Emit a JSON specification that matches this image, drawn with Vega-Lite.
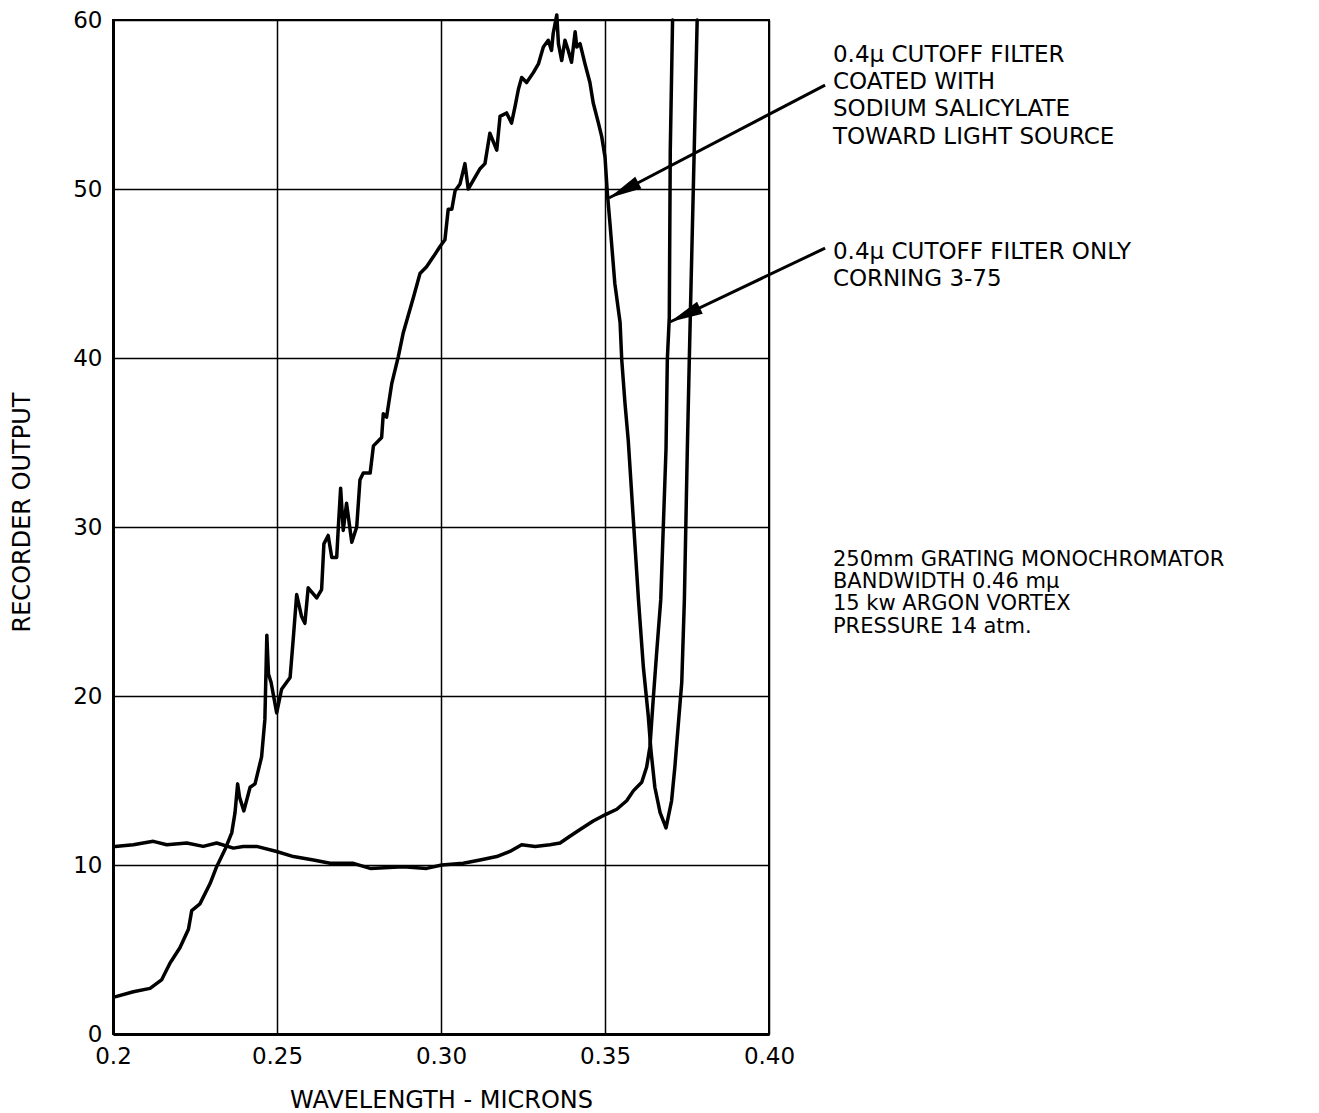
{
  "$schema": "https://vega.github.io/schema/vega-lite/v6.json",
  "width": 656,
  "height": 1014,
  "autosize": {"type": "none"},
  "padding": {"left": 113, "top": 20, "right": 550, "bottom": 79},
  "background": "white",
  "config": {
    "font": "DejaVu Sans",
    "view": {"stroke": "black", "strokeWidth": 2},
    "axis": {
      "domainColor": "black",
      "domainWidth": 3,
      "gridColor": "black",
      "gridWidth": 1.5,
      "gridOpacity": 1,
      "ticks": false,
      "labelColor": "black",
      "titleColor": "black",
      "labelFontSize": 23,
      "titleFontSize": 24,
      "titleFontWeight": "normal",
      "labelFont": "DejaVu Sans",
      "titleFont": "DejaVu Sans",
      "labelFlush": false
    }
  },
  "datasets": {
    "curves": [
      {"series": "coated", "wavelength": 0.2006, "output": 2.2},
      {"series": "coated", "wavelength": 0.2062, "output": 2.5},
      {"series": "coated", "wavelength": 0.2113, "output": 2.7},
      {"series": "coated", "wavelength": 0.2148, "output": 3.2},
      {"series": "coated", "wavelength": 0.2174, "output": 4.2},
      {"series": "coated", "wavelength": 0.2204, "output": 5.1},
      {"series": "coated", "wavelength": 0.2230, "output": 6.2},
      {"series": "coated", "wavelength": 0.2240, "output": 7.3},
      {"series": "coated", "wavelength": 0.2265, "output": 7.7},
      {"series": "coated", "wavelength": 0.2296, "output": 8.9},
      {"series": "coated", "wavelength": 0.2316, "output": 9.9},
      {"series": "coated", "wavelength": 0.2341, "output": 10.9},
      {"series": "coated", "wavelength": 0.2362, "output": 11.9},
      {"series": "coated", "wavelength": 0.2372, "output": 13.1},
      {"series": "coated", "wavelength": 0.2380, "output": 14.8},
      {"series": "coated", "wavelength": 0.2386, "output": 14.0},
      {"series": "coated", "wavelength": 0.2399, "output": 13.2},
      {"series": "coated", "wavelength": 0.2418, "output": 14.6},
      {"series": "coated", "wavelength": 0.2433, "output": 14.8},
      {"series": "coated", "wavelength": 0.2453, "output": 16.4},
      {"series": "coated", "wavelength": 0.2463, "output": 18.6},
      {"series": "coated", "wavelength": 0.2469, "output": 23.6},
      {"series": "coated", "wavelength": 0.2474, "output": 21.3},
      {"series": "coated", "wavelength": 0.2482, "output": 20.8},
      {"series": "coated", "wavelength": 0.2499, "output": 19.0},
      {"series": "coated", "wavelength": 0.2514, "output": 20.4},
      {"series": "coated", "wavelength": 0.2540, "output": 21.1},
      {"series": "coated", "wavelength": 0.2550, "output": 23.5},
      {"series": "coated", "wavelength": 0.2560, "output": 26.0},
      {"series": "coated", "wavelength": 0.2575, "output": 24.7},
      {"series": "coated", "wavelength": 0.2585, "output": 24.3},
      {"series": "coated", "wavelength": 0.2595, "output": 26.4},
      {"series": "coated", "wavelength": 0.2621, "output": 25.8},
      {"series": "coated", "wavelength": 0.2636, "output": 26.3},
      {"series": "coated", "wavelength": 0.2643, "output": 29.0},
      {"series": "coated", "wavelength": 0.2656, "output": 29.5},
      {"series": "coated", "wavelength": 0.2667, "output": 28.2},
      {"series": "coated", "wavelength": 0.2682, "output": 28.2},
      {"series": "coated", "wavelength": 0.2687, "output": 30.0},
      {"series": "coated", "wavelength": 0.2694, "output": 32.3},
      {"series": "coated", "wavelength": 0.2702, "output": 29.8},
      {"series": "coated", "wavelength": 0.2712, "output": 31.4},
      {"series": "coated", "wavelength": 0.2728, "output": 29.1},
      {"series": "coated", "wavelength": 0.2743, "output": 30.0},
      {"series": "coated", "wavelength": 0.2753, "output": 32.8},
      {"series": "coated", "wavelength": 0.2763, "output": 33.2},
      {"series": "coated", "wavelength": 0.2784, "output": 33.2},
      {"series": "coated", "wavelength": 0.2794, "output": 34.8},
      {"series": "coated", "wavelength": 0.2819, "output": 35.3},
      {"series": "coated", "wavelength": 0.2824, "output": 36.7},
      {"series": "coated", "wavelength": 0.2834, "output": 36.5},
      {"series": "coated", "wavelength": 0.2850, "output": 38.5},
      {"series": "coated", "wavelength": 0.2870, "output": 40.1},
      {"series": "coated", "wavelength": 0.2885, "output": 41.5},
      {"series": "coated", "wavelength": 0.2916, "output": 43.6},
      {"series": "coated", "wavelength": 0.2936, "output": 45.0},
      {"series": "coated", "wavelength": 0.2956, "output": 45.4},
      {"series": "coated", "wavelength": 0.2977, "output": 46.0},
      {"series": "coated", "wavelength": 0.2997, "output": 46.6},
      {"series": "coated", "wavelength": 0.3012, "output": 47.0},
      {"series": "coated", "wavelength": 0.3022, "output": 48.8},
      {"series": "coated", "wavelength": 0.3033, "output": 48.8},
      {"series": "coated", "wavelength": 0.3043, "output": 49.9},
      {"series": "coated", "wavelength": 0.3058, "output": 50.3},
      {"series": "coated", "wavelength": 0.3073, "output": 51.5},
      {"series": "coated", "wavelength": 0.3083, "output": 50.0},
      {"series": "coated", "wavelength": 0.3104, "output": 50.7},
      {"series": "coated", "wavelength": 0.3119, "output": 51.2},
      {"series": "coated", "wavelength": 0.3134, "output": 51.5},
      {"series": "coated", "wavelength": 0.3149, "output": 53.3},
      {"series": "coated", "wavelength": 0.3170, "output": 52.3},
      {"series": "coated", "wavelength": 0.3180, "output": 54.3},
      {"series": "coated", "wavelength": 0.3200, "output": 54.5},
      {"series": "coated", "wavelength": 0.3215, "output": 53.9},
      {"series": "coated", "wavelength": 0.3226, "output": 54.9},
      {"series": "coated", "wavelength": 0.3236, "output": 55.9},
      {"series": "coated", "wavelength": 0.3246, "output": 56.6},
      {"series": "coated", "wavelength": 0.3261, "output": 56.3},
      {"series": "coated", "wavelength": 0.3282, "output": 56.9},
      {"series": "coated", "wavelength": 0.3297, "output": 57.4},
      {"series": "coated", "wavelength": 0.3312, "output": 58.4},
      {"series": "coated", "wavelength": 0.3327, "output": 58.8},
      {"series": "coated", "wavelength": 0.3337, "output": 58.2},
      {"series": "coated", "wavelength": 0.3342, "output": 59.2},
      {"series": "coated", "wavelength": 0.3353, "output": 60.3},
      {"series": "coated", "wavelength": 0.3358, "output": 58.6},
      {"series": "coated", "wavelength": 0.3368, "output": 57.6},
      {"series": "coated", "wavelength": 0.3378, "output": 58.8},
      {"series": "coated", "wavelength": 0.3388, "output": 58.2},
      {"series": "coated", "wavelength": 0.3398, "output": 57.5},
      {"series": "coated", "wavelength": 0.3409, "output": 59.3},
      {"series": "coated", "wavelength": 0.3414, "output": 58.4},
      {"series": "coated", "wavelength": 0.3424, "output": 58.6},
      {"series": "coated", "wavelength": 0.3439, "output": 57.4},
      {"series": "coated", "wavelength": 0.3454, "output": 56.3},
      {"series": "coated", "wavelength": 0.3464, "output": 55.1},
      {"series": "coated", "wavelength": 0.3480, "output": 53.9},
      {"series": "coated", "wavelength": 0.3490, "output": 53.1},
      {"series": "coated", "wavelength": 0.3500, "output": 51.9},
      {"series": "coated", "wavelength": 0.3507, "output": 49.8},
      {"series": "coated", "wavelength": 0.3515, "output": 48.0},
      {"series": "coated", "wavelength": 0.3530, "output": 44.4},
      {"series": "coated", "wavelength": 0.3546, "output": 42.1},
      {"series": "coated", "wavelength": 0.3551, "output": 39.9},
      {"series": "coated", "wavelength": 0.3561, "output": 37.3},
      {"series": "coated", "wavelength": 0.3571, "output": 35.1},
      {"series": "coated", "wavelength": 0.3602, "output": 25.7},
      {"series": "coated", "wavelength": 0.3617, "output": 21.7},
      {"series": "coated", "wavelength": 0.3632, "output": 18.8},
      {"series": "coated", "wavelength": 0.3640, "output": 16.8},
      {"series": "coated", "wavelength": 0.3652, "output": 14.6},
      {"series": "coated", "wavelength": 0.3668, "output": 13.1},
      {"series": "coated", "wavelength": 0.3686, "output": 12.2},
      {"series": "coated", "wavelength": 0.3703, "output": 13.8},
      {"series": "coated", "wavelength": 0.3713, "output": 15.8},
      {"series": "coated", "wavelength": 0.3723, "output": 18.2},
      {"series": "coated", "wavelength": 0.3734, "output": 20.8},
      {"series": "coated", "wavelength": 0.3742, "output": 25.7},
      {"series": "coated", "wavelength": 0.3751, "output": 34.6},
      {"series": "coated", "wavelength": 0.3757, "output": 39.9},
      {"series": "coated", "wavelength": 0.3760, "output": 42.4},
      {"series": "coated", "wavelength": 0.3772, "output": 52.3},
      {"series": "coated", "wavelength": 0.3781, "output": 60.0},
      {"series": "filter", "wavelength": 0.2006, "output": 11.1},
      {"series": "filter", "wavelength": 0.2062, "output": 11.2},
      {"series": "filter", "wavelength": 0.2092, "output": 11.3},
      {"series": "filter", "wavelength": 0.2123, "output": 11.4},
      {"series": "filter", "wavelength": 0.2164, "output": 11.2},
      {"series": "filter", "wavelength": 0.2225, "output": 11.3},
      {"series": "filter", "wavelength": 0.2275, "output": 11.1},
      {"series": "filter", "wavelength": 0.2316, "output": 11.3},
      {"series": "filter", "wavelength": 0.2367, "output": 11.0},
      {"series": "filter", "wavelength": 0.2397, "output": 11.1},
      {"series": "filter", "wavelength": 0.2438, "output": 11.1},
      {"series": "filter", "wavelength": 0.2499, "output": 10.8},
      {"series": "filter", "wavelength": 0.2550, "output": 10.5},
      {"series": "filter", "wavelength": 0.2611, "output": 10.3},
      {"series": "filter", "wavelength": 0.2662, "output": 10.1},
      {"series": "filter", "wavelength": 0.2733, "output": 10.1},
      {"series": "filter", "wavelength": 0.2784, "output": 9.8},
      {"series": "filter", "wavelength": 0.2885, "output": 9.9},
      {"series": "filter", "wavelength": 0.2956, "output": 9.8},
      {"series": "filter", "wavelength": 0.3002, "output": 10.0},
      {"series": "filter", "wavelength": 0.3068, "output": 10.1},
      {"series": "filter", "wavelength": 0.3119, "output": 10.3},
      {"series": "filter", "wavelength": 0.3170, "output": 10.5},
      {"series": "filter", "wavelength": 0.3210, "output": 10.8},
      {"series": "filter", "wavelength": 0.3246, "output": 11.2},
      {"series": "filter", "wavelength": 0.3287, "output": 11.1},
      {"series": "filter", "wavelength": 0.3332, "output": 11.2},
      {"series": "filter", "wavelength": 0.3363, "output": 11.3},
      {"series": "filter", "wavelength": 0.3393, "output": 11.7},
      {"series": "filter", "wavelength": 0.3424, "output": 12.1},
      {"series": "filter", "wavelength": 0.3464, "output": 12.6},
      {"series": "filter", "wavelength": 0.3503, "output": 13.0},
      {"series": "filter", "wavelength": 0.3536, "output": 13.3},
      {"series": "filter", "wavelength": 0.3566, "output": 13.8},
      {"series": "filter", "wavelength": 0.3587, "output": 14.4},
      {"series": "filter", "wavelength": 0.3612, "output": 14.9},
      {"series": "filter", "wavelength": 0.3627, "output": 15.8},
      {"series": "filter", "wavelength": 0.3637, "output": 17.0},
      {"series": "filter", "wavelength": 0.3647, "output": 19.8},
      {"series": "filter", "wavelength": 0.3658, "output": 22.7},
      {"series": "filter", "wavelength": 0.3670, "output": 25.7},
      {"series": "filter", "wavelength": 0.3686, "output": 34.6},
      {"series": "filter", "wavelength": 0.3690, "output": 39.9},
      {"series": "filter", "wavelength": 0.3696, "output": 42.4},
      {"series": "filter", "wavelength": 0.3699, "output": 52.3},
      {"series": "filter", "wavelength": 0.3706, "output": 60.0}
    ],
    "arrows": [
      {"id": 1, "wavelength": 0.4171, "output": 56.15, "wavelength2": 0.3512, "output2": 49.47},
      {"id": 2, "wavelength": 0.4171, "output": 46.5, "wavelength2": 0.3698, "output2": 42.13}
    ],
    "notes": [
      {"block": "a", "wavelength": 0.4195, "output": 57.93, "label": "0.4μ CUTOFF FILTER"},
      {"block": "a", "wavelength": 0.4195, "output": 56.33, "label": "COATED WITH"},
      {"block": "a", "wavelength": 0.4195, "output": 54.73, "label": "SODIUM SALICYLATE"},
      {"block": "a", "wavelength": 0.4195, "output": 53.08, "label": "TOWARD LIGHT SOURCE"},
      {"block": "a", "wavelength": 0.4195, "output": 46.27, "label": "0.4μ CUTOFF FILTER ONLY"},
      {"block": "a", "wavelength": 0.4195, "output": 44.67, "label": "CORNING 3-75"},
      {"block": "b", "wavelength": 0.4195, "output": 28.05, "label": "250mm GRATING MONOCHROMATOR"},
      {"block": "b", "wavelength": 0.4195, "output": 26.72, "label": "BANDWIDTH 0.46 mμ"},
      {"block": "b", "wavelength": 0.4195, "output": 25.42, "label": "15 kw ARGON VORTEX"},
      {"block": "b", "wavelength": 0.4195, "output": 24.08, "label": "PRESSURE 14 atm."}
    ]
  },
  "layer": [
    {
      "data": {"name": "curves"},
      "mark": {"type": "line", "color": "black", "strokeWidth": 3.5, "strokeJoin": "round", "strokeCap": "round"},
      "encoding": {
        "x": {
          "field": "wavelength", "type": "quantitative",
          "scale": {"domain": [0.2, 0.4], "nice": false, "zero": false},
          "axis": {
            "values": [0.2, 0.25, 0.3, 0.35, 0.4],
            "labelExpr": "datum.value == 0.2 ? '0.2' : format(datum.value, '.2f')",
            "title": "WAVELENGTH - MICRONS",
            "labelPadding": 11,
            "titlePadding": 20
          }
        },
        "y": {
          "field": "output", "type": "quantitative",
          "scale": {"domain": [0, 60], "nice": false, "zero": true},
          "axis": {
            "values": [0, 10, 20, 30, 40, 50, 60],
            "title": "RECORDER OUTPUT",
            "labelPadding": 11,
            "titlePadding": 38,
            "titleY": 492
          }
        },
        "detail": {"field": "series", "type": "nominal"}
      }
    },
    {
      "data": {"name": "arrows"},
      "mark": {"type": "rule", "color": "black", "strokeWidth": 3},
      "encoding": {
        "x": {"field": "wavelength", "type": "quantitative", "scale": {"domain": [0.2, 0.4], "nice": false, "zero": false}},
        "y": {"field": "output", "type": "quantitative", "scale": {"domain": [0, 60], "nice": false, "zero": true}},
        "x2": {"field": "wavelength2"},
        "y2": {"field": "output2"}
      }
    },
    {
      "data": {"name": "arrows"},
      "transform": [{"filter": "datum.id == 1"}],
      "mark": {"type": "point", "shape": "M0,0L0.4,2L-0.4,2Z", "filled": true, "color": "black", "opacity": 1, "size": 1100, "angle": 242.4},
      "encoding": {
        "x": {"field": "wavelength2", "type": "quantitative", "scale": {"domain": [0.2, 0.4], "nice": false, "zero": false}},
        "y": {"field": "output2", "type": "quantitative", "scale": {"domain": [0, 60], "nice": false, "zero": true}}
      }
    },
    {
      "data": {"name": "arrows"},
      "transform": [{"filter": "datum.id == 2"}],
      "mark": {"type": "point", "shape": "M0,0L0.4,2L-0.4,2Z", "filled": true, "color": "black", "opacity": 1, "size": 1100, "angle": 244.5},
      "encoding": {
        "x": {"field": "wavelength2", "type": "quantitative", "scale": {"domain": [0.2, 0.4], "nice": false, "zero": false}},
        "y": {"field": "output2", "type": "quantitative", "scale": {"domain": [0, 60], "nice": false, "zero": true}}
      }
    },
    {
      "data": {"name": "notes"},
      "transform": [{"filter": "datum.block == 'a'"}],
      "mark": {"type": "text", "align": "left", "baseline": "middle", "fontSize": 23, "font": "DejaVu Sans", "color": "black"},
      "encoding": {
        "x": {"field": "wavelength", "type": "quantitative", "scale": {"domain": [0.2, 0.4], "nice": false, "zero": false}},
        "y": {"field": "output", "type": "quantitative", "scale": {"domain": [0, 60], "nice": false, "zero": true}},
        "text": {"field": "label", "type": "nominal"}
      }
    },
    {
      "data": {"name": "notes"},
      "transform": [{"filter": "datum.block == 'b'"}],
      "mark": {"type": "text", "align": "left", "baseline": "middle", "fontSize": 21, "font": "DejaVu Sans", "color": "black"},
      "encoding": {
        "x": {"field": "wavelength", "type": "quantitative", "scale": {"domain": [0.2, 0.4], "nice": false, "zero": false}},
        "y": {"field": "output", "type": "quantitative", "scale": {"domain": [0, 60], "nice": false, "zero": true}},
        "text": {"field": "label", "type": "nominal"}
      }
    }
  ]
}
